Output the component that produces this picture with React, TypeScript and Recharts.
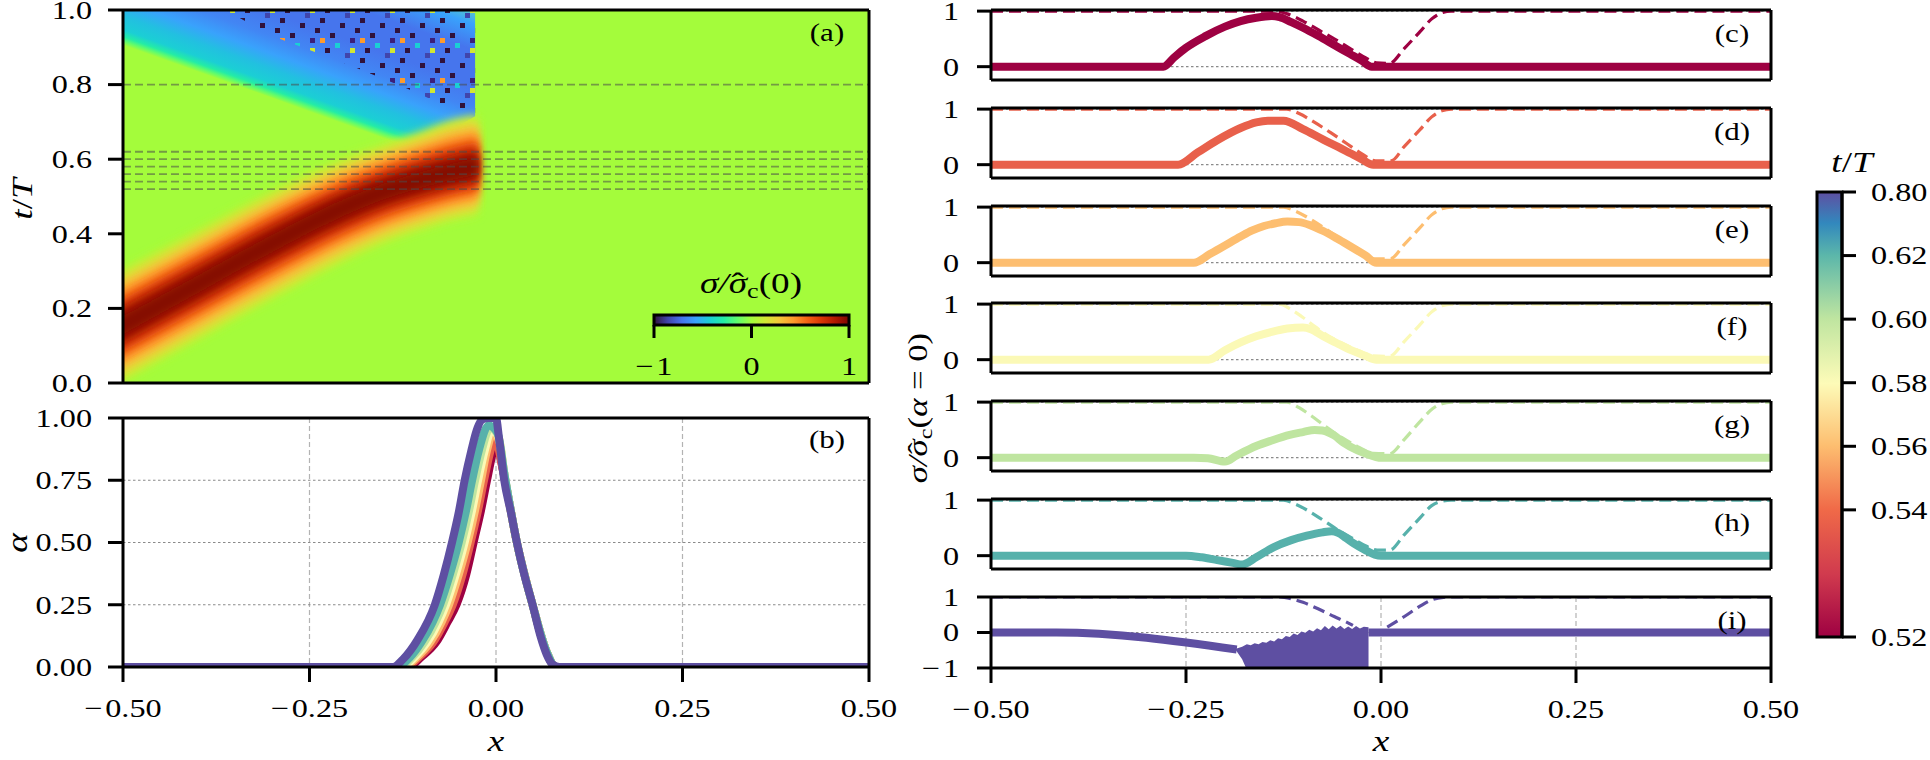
import React from "react";
import {
  ComposedChart,
  Line,
  Area,
  XAxis,
  YAxis,
  CartesianGrid,
  ReferenceArea,
} from "recharts";

// ---------------- data ----------------
const X_TICKS = [-0.5, -0.25, 0, 0.25, 0.5];
const T_TICKS = [0, 0.2, 0.4, 0.6, 0.8, 1];
const ALPHA_TICKS = [0, 0.25, 0.5, 0.75, 1];
const SIGMA_TICKS = [0, 1];
const SIGMA_TICKS_LAST = [-1, 0, 1];
const INSET_TICKS = [-1, 0, 1];

// snapshot times (dashed lines in (a), curves in (b), panels (c)-(i))
const SNAP_T = [0.52, 0.54, 0.56, 0.58, 0.6, 0.62, 0.8];
const SNAP_COLORS = ["#9e0142", "#e8604b", "#fdbe70", "#fbf9b6", "#bfe5a0", "#57b1ab", "#5e4fa2"];
const SNAP_TAGS = ["(c)", "(d)", "(e)", "(f)", "(g)", "(h)", "(i)"];

// t/T colour bar: tick slots (spacing is uneven in the original) and labels
const CBAR_SLOTS = [0, 2, 3, 4, 5, 6, 7];
const CBAR_LABELS = ["0.52", "0.54", "0.56", "0.58", "0.60", "0.62", "0.80"];

// (a) heat map, described by its main structures
// red stress band: ridge line and its half widths below / above (in t)
const BAND_X = [-0.56, -0.5, -0.4, -0.3, -0.2, -0.15, -0.1, -0.06, -0.025];
const BAND_MID = [0.09, 0.155, 0.265, 0.375, 0.475, 0.515, 0.545, 0.565, 0.58];
const BAND_DOWN = [0.15, 0.15, 0.15, 0.15, 0.145, 0.14, 0.135, 0.13, 0.13];
const BAND_UP = [0.15, 0.15, 0.145, 0.14, 0.13, 0.125, 0.13, 0.14, 0.14];
const BAND_LEVELS = [1, 0.88, 0.77, 0.67, 0.57, 0.47, 0.37, 0.27, 0.17];
const BAND_COLORS = ["#c6ef34", "#e2da37", "#f6c13a", "#fe9f2f", "#f8731d", "#e4480b", "#c42a03", "#9c1201", "#840702"];

// blue/cyan wedge (negative stress) and the noisy region inside it
const WEDGE_X = [-0.52, -0.5, -0.4, -0.3, -0.2, -0.16, -0.13, -0.1, -0.07, -0.045, -0.028];
const WEDGE_LOW = [0.92, 0.905, 0.835, 0.765, 0.69, 0.655, 0.64, 0.645, 0.668, 0.695, 0.715];
const WEDGE_TOP = 1.03;
const NOISE_X = [-0.39, -0.3, -0.2, -0.12, -0.07, -0.04, -0.028];
const NOISE_LOW = [1.03, 0.93, 0.855, 0.79, 0.745, 0.725, 0.72];

// (b) alpha(x) for each snapshot
const ALPHA = [
  [[-0.5, 0], [-0.118, 0], [-0.1, 0.04], [-0.08, 0.1], [-0.065, 0.18], [-0.053, 0.25], [-0.04, 0.37], [-0.03, 0.5], [-0.02, 0.63], [-0.012, 0.75], [-0.005, 0.85], [0, 0.9], [0.01, 0.78], [0.028, 0.5], [0.049, 0.25], [0.068, 0.06], [0.08, 0], [0.5, 0]],
  [[-0.5, 0], [-0.121, 0], [-0.103, 0.04], [-0.084, 0.1], [-0.069, 0.18], [-0.058, 0.25], [-0.045, 0.37], [-0.034, 0.5], [-0.024, 0.63], [-0.016, 0.75], [-0.008, 0.86], [-0.002, 0.92], [0.01, 0.78], [0.028, 0.5], [0.049, 0.25], [0.068, 0.06], [0.08, 0], [0.5, 0]],
  [[-0.5, 0], [-0.124, 0], [-0.106, 0.04], [-0.088, 0.1], [-0.073, 0.18], [-0.063, 0.25], [-0.05, 0.37], [-0.038, 0.5], [-0.028, 0.63], [-0.02, 0.75], [-0.012, 0.87], [-0.004, 0.94], [0.005, 0.9], [0.011, 0.78], [0.028, 0.5], [0.049, 0.25], [0.068, 0.06], [0.08, 0], [0.5, 0]],
  [[-0.5, 0], [-0.127, 0], [-0.109, 0.04], [-0.092, 0.1], [-0.077, 0.18], [-0.067, 0.25], [-0.054, 0.37], [-0.042, 0.5], [-0.032, 0.63], [-0.024, 0.75], [-0.015, 0.87], [-0.006, 0.95], [0.004, 0.92], [0.011, 0.78], [0.028, 0.5], [0.049, 0.25], [0.068, 0.06], [0.08, 0], [0.5, 0]],
  [[-0.5, 0], [-0.13, 0], [-0.112, 0.04], [-0.096, 0.1], [-0.081, 0.18], [-0.071, 0.25], [-0.058, 0.37], [-0.046, 0.5], [-0.036, 0.63], [-0.028, 0.75], [-0.019, 0.87], [-0.008, 0.96], [0.003, 0.93], [0.011, 0.78], [0.028, 0.5], [0.049, 0.25], [0.068, 0.06], [0.08, 0], [0.5, 0]],
  [[-0.5, 0], [-0.133, 0], [-0.115, 0.04], [-0.1, 0.1], [-0.085, 0.18], [-0.075, 0.25], [-0.062, 0.37], [-0.05, 0.5], [-0.04, 0.63], [-0.032, 0.75], [-0.023, 0.87], [-0.01, 0.97], [0.002, 0.94], [0.011, 0.78], [0.028, 0.5], [0.049, 0.25], [0.068, 0.06], [0.08, 0], [0.5, 0]],
  [[-0.5, 0], [-0.138, 0], [-0.125, 0.03], [-0.105, 0.11], [-0.082, 0.25], [-0.07, 0.37], [-0.059, 0.5], [-0.05, 0.62], [-0.042, 0.75], [-0.033, 0.87], [-0.026, 0.95], [-0.018, 0.995], [-0.01, 1], [0, 1], [0.004, 0.92], [0.011, 0.75], [0.02, 0.62], [0.028, 0.5], [0.038, 0.37], [0.049, 0.25], [0.06, 0.12], [0.068, 0.05], [0.076, 0.01], [0.085, 0], [0.5, 0]],
];

// (c)-(i) sigma / sigma_c(alpha=0): thick solid curves
const SOLID = [
  [[-0.5, 0], [-0.279, 0], [-0.265, 0.17], [-0.25, 0.34], [-0.225, 0.55], [-0.2, 0.72], [-0.18, 0.82], [-0.16, 0.88], [-0.14, 0.91], [-0.13, 0.89], [-0.115, 0.8], [-0.1, 0.7], [-0.08, 0.55], [-0.06, 0.39], [-0.04, 0.23], [-0.025, 0.11], [-0.012, 0], [0.5, 0]],
  [[-0.5, 0], [-0.26, 0], [-0.235, 0.22], [-0.21, 0.44], [-0.18, 0.66], [-0.16, 0.76], [-0.145, 0.79], [-0.125, 0.79], [-0.1, 0.64], [-0.074, 0.45], [-0.055, 0.32], [-0.04, 0.21], [-0.025, 0.1], [-0.01, 0], [0.5, 0]],
  [[-0.5, 0], [-0.24, 0], [-0.22, 0.15], [-0.2, 0.31], [-0.18, 0.47], [-0.165, 0.58], [-0.15, 0.66], [-0.135, 0.71], [-0.12, 0.74], [-0.105, 0.73], [-0.09, 0.67], [-0.074, 0.57], [-0.057, 0.44], [-0.04, 0.3], [-0.02, 0.13], [-0.006, 0], [0.5, 0]],
  [[-0.5, 0], [-0.221, 0], [-0.2, 0.17], [-0.18, 0.31], [-0.16, 0.42], [-0.14, 0.5], [-0.12, 0.56], [-0.1, 0.58], [-0.09, 0.55], [-0.074, 0.42], [-0.057, 0.3], [-0.04, 0.18], [-0.02, 0.07], [-0.006, 0], [0.5, 0]],
  [[-0.5, 0], [-0.24, 0], [-0.222, -0.01], [-0.2, -0.07], [-0.185, 0.04], [-0.16, 0.21], [-0.14, 0.31], [-0.117, 0.41], [-0.1, 0.46], [-0.085, 0.5], [-0.075, 0.49], [-0.06, 0.4], [-0.048, 0.27], [-0.03, 0.13], [-0.015, 0.05], [-0.003, 0], [0.5, 0]],
  [[-0.5, 0], [-0.25, 0], [-0.23, -0.03], [-0.21, -0.08], [-0.19, -0.13], [-0.178, -0.16], [-0.16, -0.03], [-0.138, 0.15], [-0.115, 0.28], [-0.095, 0.36], [-0.075, 0.42], [-0.063, 0.44], [-0.055, 0.41], [-0.045, 0.32], [-0.035, 0.22], [-0.02, 0.1], [-0.008, 0.02], [0, 0], [0.5, 0]],
  [[-0.5, 0], [-0.416, 0], [-0.185, -0.48]],
];
// last panel: flat part right of the shock front
const SOLID_LAST_TAIL = [[-0.016, 0], [0.5, 0]];
// last panel: oscillating region, lower / upper envelope
const OSC_X = [-0.186, -0.178, -0.172, -0.167, -0.162, -0.157, -0.152, -0.147, -0.142, -0.137, -0.132, -0.127, -0.122, -0.117, -0.112, -0.107, -0.102, -0.097, -0.092, -0.087, -0.082, -0.077, -0.072, -0.067, -0.062, -0.057, -0.052, -0.047, -0.042, -0.037, -0.032, -0.027, -0.022, -0.016];
const OSC_LO = [-0.5, -0.75, -1.05, -1.05, -1.05, -1.05, -1.05, -1.05, -1.05, -1.05, -1.05, -1.05, -1.05, -1.05, -1.05, -1.05, -1.05, -1.05, -1.05, -1.05, -1.05, -1.05, -1.05, -1.05, -1.05, -1.05, -1.05, -1.05, -1.05, -1.05, -1.05, -1.05, -1.05, -1.05];
const OSC_HI = [-0.46, -0.4, -0.33, -0.36, -0.3, -0.33, -0.27, -0.29, -0.22, -0.25, -0.16, -0.19, -0.1, -0.13, -0.03, -0.07, 0.03, -0.01, 0.08, 0.03, 0.12, 0.06, 0.18, 0.09, 0.2, 0.11, 0.19, 0.1, 0.17, 0.1, 0.18, 0.11, 0.16, 0.15];

// dashed curves in (c)-(i)
const DASH = [
  [[-0.5, 1], [-0.136, 1], [-0.12, 0.95], [-0.1, 0.82], [-0.08, 0.66], [-0.06, 0.5], [-0.04, 0.33], [-0.02, 0.16], [-0.006, 0.07], [0.011, 0.06], [0.03, 0.33], [0.05, 0.63], [0.065, 0.86], [0.078, 0.97], [0.09, 1], [0.5, 1]],
  [[-0.5, 1], [-0.121, 1], [-0.105, 0.92], [-0.085, 0.76], [-0.065, 0.58], [-0.045, 0.39], [-0.025, 0.2], [-0.007, 0.07], [0.013, 0.07], [0.03, 0.33], [0.05, 0.63], [0.065, 0.86], [0.078, 0.97], [0.09, 1], [0.5, 1]],
  [[-0.5, 1], [-0.125, 1], [-0.11, 0.93], [-0.09, 0.78], [-0.07, 0.6], [-0.05, 0.41], [-0.03, 0.22], [-0.008, 0.07], [0.012, 0.07], [0.03, 0.33], [0.05, 0.63], [0.065, 0.86], [0.078, 0.97], [0.09, 1], [0.5, 1]],
  [[-0.5, 1], [-0.13, 1], [-0.115, 0.9], [-0.1, 0.76], [-0.085, 0.6], [-0.07, 0.45], [-0.05, 0.3], [-0.03, 0.17], [-0.01, 0.07], [0.011, 0.06], [0.03, 0.33], [0.05, 0.63], [0.065, 0.86], [0.078, 0.97], [0.09, 1], [0.5, 1]],
  [[-0.5, 1], [-0.121, 1], [-0.105, 0.9], [-0.09, 0.76], [-0.07, 0.55], [-0.05, 0.36], [-0.03, 0.2], [-0.01, 0.08], [0.011, 0.07], [0.03, 0.33], [0.05, 0.65], [0.066, 0.88], [0.078, 0.97], [0.09, 1], [0.5, 1]],
  [[-0.5, 1], [-0.125, 1], [-0.11, 0.93], [-0.09, 0.78], [-0.07, 0.6], [-0.055, 0.46], [-0.04, 0.34], [-0.02, 0.18], [-0.005, 0.1], [0.011, 0.1], [0.03, 0.38], [0.05, 0.68], [0.065, 0.9], [0.078, 0.98], [0.09, 1], [0.5, 1]],
  [[-0.5, 1], [-0.13, 1], [-0.115, 0.95], [-0.1, 0.85], [-0.08, 0.66], [-0.06, 0.45], [-0.045, 0.3], [-0.036, 0.2], [-0.01, null], [0.008, 0.15], [0.03, 0.45], [0.05, 0.74], [0.065, 0.92], [0.08, 0.99], [0.09, 1], [0.5, 1]],
];

// ---------------- styling ----------------
const SERIF = "'Liberation Serif', 'Times New Roman', serif";
const SX = 1.24; // the original lettering is wider than Times
const AX = { stroke: "#000", strokeWidth: 3 };
const TURBO = ["#30123b", "#4145ab", "#4675ed", "#39a2fc", "#1bcfd4", "#24eca6", "#61fc6c", "#a4fc3b", "#d1e834", "#f3c63a", "#fe9b2d", "#f36315", "#d93806", "#b11901", "#7a0402"];
const SPECTRAL_BAR: [number, string][] = [[0, "#5e4fa2"], [0.07, "#3288bd"], [0.143, "#5cb7aa"], [0.285, "#bfe5a0"], [0.43, "#fdfbb8"], [0.57, "#fdbe70"], [0.713, "#f06a48"], [0.86, "#d03a4e"], [1, "#9e0142"]];
const WEDGE_STOPS: [number, string][] = [[0, "#a4fc3b"], [0.025, "#61fc6c"], [0.05, "#24eca6"], [0.09, "#1bcfd4"], [0.17, "#22c0e0"], [0.26, "#39a2fc"], [0.36, "#4286f4"], [0.5, "#4675ed"], [0.7, "#4675ed"], [0.85, "#39a2fc"], [1, "#70e6a0"]];
const SPECKLES: [number, number, string][] = [[0, 0, "#30123b"], [20, 5, "#30123b"], [10, 15, "#30123b"], [30, 20, "#3b1f7a"], [5, 30, "#30123b"], [25, 35, "#4145ab"], [35, 10, "#30123b"], [15, 25, "#1bcfd4"], [30, 30, "#d1e834"], [0, 20, "#fe9b2d"]];
const RIGHT_TOPS = [10, 108, 206, 303, 401, 499, 597];
const PAD = 22; // room above each chart's plot for its top tick label

const pts = (a: (number | null)[][]) => a.map(([x, y]) => ({ x, y }));
const range = (xs: number[], lo: number[], hi: number[]) => xs.map((x, i) => ({ x, r: [lo[i], hi[i]] }));
const bandData = (f: number) =>
  BAND_X.map((x, i) => ({ x, r: [BAND_MID[i] - f * BAND_DOWN[i], BAND_MID[i] + f * BAND_UP[i]] }));

const num = (d: number) => (v: number) => (v < 0 ? "\u2212\u200a" : "") + Math.abs(v).toFixed(d);

function makeTick(fmt: (v: number) => string, anchor: "start" | "middle" | "end", dy: string) {
  return (p: any) => (
    <g transform={`translate(${p.x},${p.y}) scale(${SX},1)`}>
      <text x={0} y={0} dy={dy} textAnchor={anchor} fontFamily={SERIF} fontSize={26} fill="#000">
        {fmt(p.payload.value)}
      </text>
    </g>
  );
}

function Txt({ x, y, size = 26, rot = 0, dy = "0.3em", children }: any) {
  return (
    <g transform={`translate(${x},${y}) rotate(${rot}) scale(${SX},1)`}>
      <text x={0} y={0} dy={dy} textAnchor="middle" fontFamily={SERIF} fontSize={size} fill="#000">
        {children}
      </text>
    </g>
  );
}

function Defs() {
  return (
    <svg width={0} height={0} style={{ position: "absolute" }}>
      <defs>
        <linearGradient id="wedgeGrad" x1="0" y1="0.282" x2="0.587" y2="-0.37">
          {WEDGE_STOPS.map(([o, c]) => <stop key={o} offset={o} stopColor={c} />)}
        </linearGradient>
        <pattern id="speckle" width="40" height="40" patternUnits="userSpaceOnUse">
          {SPECKLES.map(([x, y, c], i) => <rect key={i} x={x} y={y} width={5} height={5} fill={c} />)}
        </pattern>
        <filter id="soften" x="-10%" y="-20%" width="120%" height="140%">
          <feGaussianBlur stdDeviation="4" />
        </filter>
        <linearGradient id="turboGrad" x1="0" y1="0" x2="1" y2="0">
          {TURBO.map((c, i) => <stop key={i} offset={i / (TURBO.length - 1)} stopColor={c} />)}
        </linearGradient>
        <linearGradient id="spectralGrad" x1="0" y1="0" x2="0" y2="1">
          {SPECTRAL_BAR.map(([o, c]) => <stop key={o} offset={o} stopColor={c} />)}
        </linearGradient>
      </defs>
    </svg>
  );
}

// top and right spines (axes without ticks)
const topSpine = (
  <XAxis xAxisId="top" orientation="top" type="number" domain={[-0.5, 0.5]} tick={false}
    tickLine={false} axisLine={AX} height={1} />
);
const rightSpine = (
  <YAxis yAxisId="right" orientation="right" type="number" domain={[0, 1]} tick={false}
    tickLine={false} axisLine={AX} width={1} />
);

function PanelA() {
  return (
    <ComposedChart width={900} height={400 + PAD} margin={{ top: 9 + PAD, right: 30, bottom: 16, left: 122 }}>
      <CartesianGrid horizontal={false} vertical={false} fill="#a4fc3b" stroke="none" />
      <Area data={range(WEDGE_X, WEDGE_LOW, WEDGE_X.map(() => WEDGE_TOP))} dataKey="r" type="linear"
        stroke="none" fill="url(#wedgeGrad)" fillOpacity={1} isAnimationActive={false} />
      <Area data={range(NOISE_X, NOISE_LOW, NOISE_X.map(() => WEDGE_TOP))} dataKey="r" type="linear"
        stroke="none" fill="url(#speckle)" fillOpacity={1} isAnimationActive={false} />
      {BAND_LEVELS.map((f, i) => (
        <Area key={f} className="band" data={bandData(f)} dataKey="r" type="monotone"
          stroke="none" fill={BAND_COLORS[i]} fillOpacity={1} isAnimationActive={false} />
      ))}
      {SNAP_T.map((t) => (
        <Line key={t} data={[{ x: X_TICKS[0], y: t }, { x: X_TICKS[4], y: t }]} dataKey="y"
          stroke="#4a4a4a" strokeOpacity={0.55} strokeWidth={1.8} strokeDasharray="8 4"
          dot={false} activeDot={false} isAnimationActive={false} />
      ))}
      <XAxis type="number" dataKey="x" domain={[-0.5, 0.5]} ticks={X_TICKS} allowDataOverflow
        axisLine={AX} tickLine={AX} tickSize={15} tick={false} height={1} interval={0} />
      <YAxis type="number" domain={[0, 1]} ticks={T_TICKS} allowDataOverflow axisLine={AX} tickLine={AX}
        tickSize={15} tickMargin={16} tick={makeTick(num(1), "end", "0.34em")} width={1} interval={0} />
      {topSpine}
      {rightSpine}
    </ComposedChart>
  );
}

function PanelB() {
  return (
    <ComposedChart width={900} height={360 + PAD} margin={{ top: 17 + PAD, right: 30, bottom: 92, left: 122 }}>
      <CartesianGrid horizontal={false} stroke="#b3b3b3" strokeDasharray="5 3" strokeWidth={1.2} />
      <CartesianGrid vertical={false} stroke="#8a8a8a" strokeDasharray="2.5 2.5" strokeWidth={1.2} />
      {ALPHA.map((a, i) => (
        <Line key={i} data={pts(a)} dataKey="y" type="monotone" stroke={SNAP_COLORS[i]} strokeWidth={8}
          strokeLinejoin="round" dot={false} activeDot={false} isAnimationActive={false} />
      ))}
      <XAxis type="number" dataKey="x" domain={[-0.5, 0.5]} ticks={X_TICKS} allowDataOverflow
        axisLine={AX} tickLine={AX} tickSize={15} tickMargin={17}
        tick={makeTick(num(2), "middle", "0.68em")} height={1} interval={0} />
      <YAxis type="number" domain={[0, 1]} ticks={ALPHA_TICKS} allowDataOverflow axisLine={AX} tickLine={AX}
        tickSize={15} tickMargin={16} tick={makeTick(num(2), "end", "0.34em")} width={1} interval={0} />
      {topSpine}
      {rightSpine}
    </ComposedChart>
  );
}

function SigmaPanel({ k }: { k: number }) {
  const last = k === SNAP_T.length - 1;
  const h = last ? 71 : 70;
  const boxTop = RIGHT_TOPS[k] - 10 - PAD;
  const boxH = last ? 760 - boxTop : h + 32 + PAD;
  const yDomain = last ? [-1, 1] : [-0.24, 1.02];
  const c = SNAP_COLORS[k];
  return (
    <div style={{ position: "absolute", left: 900, top: boxTop }}>
      <ComposedChart width={900} height={boxH} margin={{ top: 9 + PAD, right: 28, bottom: boxH - 11 - PAD - h, left: 90 }}>
        <CartesianGrid horizontal={false} stroke="#b3b3b3" strokeDasharray="5 3" strokeWidth={1.2} />
        <CartesianGrid vertical={false} stroke="#8a8a8a" strokeDasharray="2.5 2.5" strokeWidth={1.2} />
        {last && (
          <Area data={range(OSC_X, OSC_LO, OSC_HI)} dataKey="r" type="linear" stroke="none"
            fill={c} fillOpacity={1} isAnimationActive={false} />
        )}
        <Line data={pts(DASH[k])} dataKey="y" type="monotone" stroke={c} strokeWidth={3.2}
          strokeDasharray="12 6" dot={false} activeDot={false} isAnimationActive={false} />
        <Line data={pts(SOLID[k])} dataKey="y" type="monotone" stroke={c} strokeWidth={8}
          strokeLinejoin="round" dot={false} activeDot={false} isAnimationActive={false} />
        {last && (
          <Line data={pts(SOLID_LAST_TAIL)} dataKey="y" type="linear" stroke={c} strokeWidth={8}
            dot={false} activeDot={false} isAnimationActive={false} />
        )}
        <XAxis type="number" dataKey="x" domain={[-0.5, 0.5]} ticks={X_TICKS} allowDataOverflow
          axisLine={AX} tickLine={AX} tickSize={15} tickMargin={17}
          tick={last ? makeTick(num(2), "middle", "0.68em") : false} height={1} interval={0} />
        <YAxis type="number" domain={yDomain} ticks={last ? SIGMA_TICKS_LAST : SIGMA_TICKS} allowDataOverflow
          axisLine={AX} tickLine={AX} tickSize={14} tickMargin={18}
          tick={makeTick(num(0), "end", "0.34em")} width={1} interval={0} />
        {topSpine}
        {rightSpine}
      </ComposedChart>
    </div>
  );
}

function TimeColorbar() {
  return (
    <ComposedChart width={140} height={500} margin={{ top: 22, right: 87, bottom: 33, left: 27 }}
      data={CBAR_SLOTS.map((s) => ({ x: 0.5, s }))}>
      <ReferenceArea x1={0} x2={1} y1={0} y2={7} fill="url(#spectralGrad)" fillOpacity={1}
        stroke="#000" strokeWidth={3} ifOverflow="visible" />
      <XAxis type="number" dataKey="x" domain={[0, 1]} hide />
      <YAxis type="number" dataKey="s" domain={[0, 7]} ticks={CBAR_SLOTS} orientation="right"
        axisLine={AX} tickLine={AX} tickSize={14} tickMargin={15} width={1} interval={0}
        tick={makeTick((v) => CBAR_LABELS[CBAR_SLOTS.indexOf(v)], "start", "0.34em")} />
    </ComposedChart>
  );
}

function InsetColorbar() {
  return (
    <ComposedChart width={280} height={80} margin={{ top: 15, right: 31, bottom: 54, left: 54 }}
      data={INSET_TICKS.map((v) => ({ v, y: 0.5 }))}>
      <ReferenceArea x1={-1} x2={1} y1={0} y2={1} fill="url(#turboGrad)" fillOpacity={1}
        stroke="#000" strokeWidth={3} ifOverflow="visible" />
      <XAxis type="number" dataKey="v" domain={[-1, 1]} ticks={INSET_TICKS} axisLine={false}
        tickLine={AX} tickSize={13} tickMargin={19} height={1} interval={0}
        tick={makeTick(num(0), "middle", "0.68em")} />
      <YAxis type="number" dataKey="y" domain={[0, 1]} hide />
    </ComposedChart>
  );
}

// sigma / sigma-hat_c( ... the hat is a spacing circumflex moved back over the sigma
const SigmaHatC = ({ size }: { size: number }) => (
  <>
    <tspan fontStyle="italic">{"\u03c3/\u03c3"}</tspan>
    <tspan dx={-0.42 * size}>{"\u02c6"}</tspan>
    <tspan fontSize={0.7 * size} dx={0.09 * size} dy={5}>c</tspan>
    <tspan dy={-5}>(</tspan>
  </>
);

export default function App() {
  return (
    <div style={{ position: "absolute", left: 0, top: 0, width: 1930, height: 760, background: "#fff", overflow: "hidden" }}>
      <style>{`.band .recharts-area-area { filter: url(#soften); }`}</style>
      <Defs />
      <div style={{ position: "absolute", left: 0, top: -PAD }}><PanelA /></div>
      <div style={{ position: "absolute", left: 0, top: 400 - PAD }}><PanelB /></div>
      {SNAP_T.map((t, k) => <SigmaPanel key={t} k={k} />)}
      <div style={{ position: "absolute", left: 1790, top: 170 }}><TimeColorbar /></div>
      <div style={{ position: "absolute", left: 600, top: 300 }}><InsetColorbar /></div>
      <svg width={1930} height={760} style={{ position: "absolute", left: 0, top: 0, pointerEvents: "none" }}>
        <Txt x={23} y={199} rot={-90} size={30}>
          <tspan fontStyle="italic">t</tspan>/<tspan fontStyle="italic">T</tspan>
        </Txt>
        <Txt x={18} y={543} rot={-90} size={30}><tspan fontStyle="italic">{"\u03b1"}</tspan></Txt>
        <Txt x={496} y={744} size={30} dy="0.23em"><tspan fontStyle="italic">x</tspan></Txt>
        <Txt x={1381} y={744} size={30} dy="0.23em"><tspan fontStyle="italic">x</tspan></Txt>
        <Txt x={919} y={408} rot={-90} size={28}>
          <SigmaHatC size={28} />
          <tspan fontStyle="italic">{"\u03b1"}</tspan>
          <tspan>{" = 0)"}</tspan>
        </Txt>
        <Txt x={751} y={284} size={30}>
          <SigmaHatC size={30} />
          <tspan>0)</tspan>
        </Txt>
        <Txt x={1852} y={163} size={30}>
          <tspan fontStyle="italic">t</tspan>/<tspan fontStyle="italic">T</tspan>
        </Txt>
        <Txt x={827} y={33} size={25}>(a)</Txt>
        <Txt x={827} y={440} size={25}>(b)</Txt>
        {SNAP_TAGS.map((tag, k) => (
          <Txt key={tag} x={1732} y={RIGHT_TOPS[k] + 24} size={25}>{tag}</Txt>
        ))}
      </svg>
    </div>
  );
}
